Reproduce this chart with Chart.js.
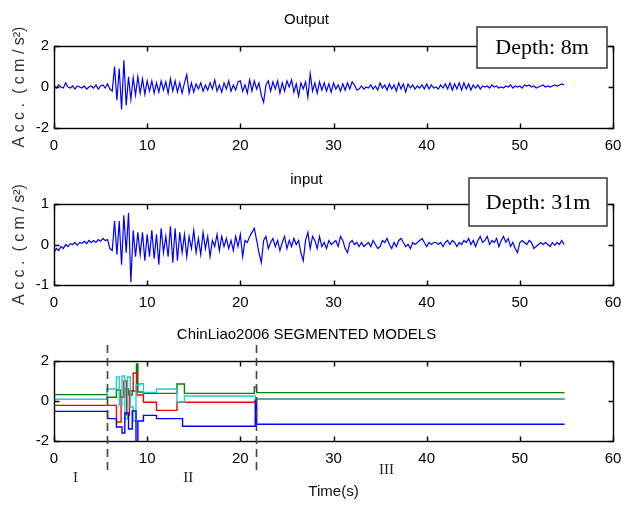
<!DOCTYPE html>
<html><head><meta charset="utf-8">
<script src="https://cdn.jsdelivr.net/npm/chart.js@4.4.0/dist/chart.umd.min.js"></script>
<style>
html,body{margin:0;padding:0;background:#fff;width:621px;height:505px;overflow:hidden;}
canvas{position:absolute;left:0;}
</style></head><body>
<canvas id="c1" width="621" height="170" style="top:0px"></canvas>
<canvas id="c2" width="621" height="160" style="top:165px"></canvas>
<canvas id="c3" width="621" height="185" style="top:320px"></canvas>
<script>
// ---------- data ----------
const timeStep = 0.25; // s, sampling grid of the traced records

// Output (depth 8 m), cm/s^2, 4 samples per second
const outputAcc = [
 0.05,-0.05,0.1,0.0,
 -0.05,0.2,0.0,-0.05,
 0.05,-0.1,0.05,0.0,
 -0.05,0.05,-0.1,0.0,
 0.05,-0.05,0.1,-0.1,
 0.05,0.1,-0.05,0.15,
 -0.1,-0.2,1.0,-0.65,
 0.9,-1.1,1.3,-0.9,
 0.5,-0.6,0.45,-0.4,
 0.5,-0.3,0.4,-0.35,
 0.3,-0.2,0.3,-0.3,
 0.2,-0.25,0.3,-0.15,
 0.25,-0.3,0.4,-0.2,
 0.3,-0.25,0.2,-0.3,
 0.2,0.6,-0.3,0.2,
 -0.25,0.15,-0.1,0.2,
 -0.2,0.1,-0.15,0.2,
 -0.1,0.35,-0.2,0.1,
 -0.25,0.2,-0.1,0.3,
 -0.2,0.1,-0.15,0.25,
 0.3,-0.2,0.1,-0.3,
 0.35,-0.2,0.3,-0.1,
 0.2,-0.4,-0.75,0.1,
 0.3,-0.2,0.25,-0.1,
 0.3,-0.3,0.2,-0.2,
 0.3,0.0,0.35,-0.25,
 0.15,-0.45,0.2,-0.1,
 0.25,-0.5,0.65,-0.2,
 0.2,-0.3,0.25,-0.15,
 0.2,-0.2,0.15,-0.25,
 0.2,-0.1,0.1,-0.2,
 0.15,-0.15,0.2,-0.1,
 0.25,0.1,-0.15,-0.1,
 0.05,-0.1,0.0,-0.05,
 0.1,-0.1,0.05,-0.15,
 0.2,-0.05,0.1,-0.15,
 0.15,-0.1,0.1,-0.2,
 0.2,-0.1,0.15,-0.25,
 0.15,-0.05,0.1,-0.1,
 0.05,-0.05,0.1,-0.1,
 0.15,-0.1,0.1,-0.05,
 0.0,-0.1,0.1,-0.05,
 0.15,-0.1,0.2,-0.15,
 0.15,-0.1,0.2,-0.15,
 0.2,-0.1,0.15,-0.15,
 0.1,-0.05,0.1,-0.1,
 0.05,0.0,0.05,-0.05,
 0.1,0.0,0.05,-0.05,
 0.0,-0.05,0.05,0.0,
 0.1,-0.05,0.05,0.0,
 0.05,-0.05,0.1,0.05,
 0.1,0.0,0.05,-0.05,
 0.0,0.05,0.1,0.0,
 0.05,0.0,0.05,0.1,
 0.05,0.1,0.15,0.1
];

// Input (depth 31 m), cm/s^2
const inputAcc = [
 -0.2,-0.1,-0.15,-0.05,
 -0.1,0.0,-0.05,0.02,
 0.0,0.05,-0.02,0.05,
 0.03,0.08,0.02,0.1,
 0.05,0.1,0.05,0.12,
 0.08,0.15,0.1,0.12,
 -0.1,-0.15,0.58,-0.25,
 0.58,-0.5,0.72,-0.2,
 0.78,-0.93,0.35,-0.3,
 0.3,-0.25,0.3,-0.4,
 0.25,-0.3,0.35,-0.35,
 0.25,-0.5,0.4,-0.2,
 0.2,-0.3,0.45,-0.45,
 0.4,-0.4,0.3,-0.2,
 0.25,-0.3,0.2,-0.1,
 0.35,-0.2,0.15,-0.25,
 0.3,-0.1,0.2,-0.3,
 0.1,-0.05,0.25,-0.15,
 0.2,-0.05,0.15,-0.1,
 0.1,-0.15,0.2,-0.05,
 0.25,-0.3,0.1,0.05,
 0.2,0.3,0.4,0.1,
 -0.2,-0.45,0.1,0.2,
 -0.1,0.05,0.15,-0.05,
 0.1,-0.15,0.05,0.2,
 -0.1,0.1,-0.05,0.15,
 0.0,0.1,-0.2,-0.4,
 0.1,0.3,-0.1,0.2,
 0.1,-0.1,0.2,-0.05,
 0.05,-0.1,0.1,0.0,
 0.05,0.1,-0.05,0.2,
 0.1,-0.1,-0.2,0.05,
 0.1,0.0,0.05,-0.05,
 0.05,-0.05,0.0,0.05,
 -0.05,0.1,0.0,-0.1,
 -0.05,0.1,0.05,0.15,
 0.0,-0.1,0.05,-0.05,
 0.1,0.15,0.05,-0.05,
 0.0,-0.1,0.05,0.0,
 0.05,0.1,0.15,0.05,
 -0.05,0.05,0.0,0.05,
 0.05,0.0,0.05,-0.05,
 0.05,0.1,0.0,0.1,
 0.05,-0.05,0.05,0.0,
 0.1,0.05,0.15,0.0,
 0.1,-0.05,0.1,0.2,
 0.05,0.1,0.2,0.0,
 0.1,0.05,0.15,-0.05,
 0.1,0.2,0.05,0.15,
 -0.05,0.05,-0.1,-0.2,
 0.05,0.1,0.05,0.0,
 0.1,0.05,-0.1,-0.05,
 0.0,0.05,0.0,0.05,
 0.0,-0.05,0.05,-0.02,
 0.05,0.0,0.1,0.0
];

// Segmented model parameters (step functions): breakpoint times and values
const segGreenT = [0, 5.7, 6.7, 7.1, 7.6, 8.0, 8.4, 8.85, 9.0, 9.6, 13.2, 14.0, 21.5, 21.75, 54.8];
const segGreenV = [0.32, 0.19, 0.55, 0.2, 0.6, 0.3, 0.5, 1.85, 0.45, 0.38, 0.85, 0.38, 0.7, 0.42, 0.42];
const segCyanT  = [0, 5.7, 6.7, 7.0, 7.3, 7.6, 7.9, 8.2, 8.5, 8.8, 9.2, 9.6, 11.0, 13.2, 14.0, 21.6, 54.8];
const segCyanV  = [0.09, 0.6, 1.2, -0.2, 1.25, -0.9, 1.2, -0.3, -1.0, 0.8, 0.86, 0.43, 0.6, -0.05, 0.25, 0.1, 0.1];
const segRedT   = [0, 6.7, 7.2, 7.5, 7.8, 8.1, 8.5, 8.9, 9.6, 11.0, 13.2, 21.6, 54.8];
const segRedV   = [-0.22, -1.05, 0.2, 1.0, -0.7, 0.5, 1.4, 0.3, -0.06, -0.47, -0.06, 0.1, 0.1];
const segBlueT  = [0, 5.75, 6.7, 7.3, 7.6, 8.0, 8.4, 8.8, 9.0, 9.6, 11.0, 13.8, 21.6, 21.75, 54.8];
const segBlueV  = [-0.52, -0.88, -1.3, -1.6, -0.6, -1.4, -0.5, -2.1, -1.0, -0.72, -0.88, -1.26, 0.0, -1.16, -1.16];

const regionBounds = [5.7, 21.7];          // dashed separators (s)
const regionLabels = ['I', 'II', 'III'];
const regionLabelT = [2.3, 14.4, 35.7];    // label positions (s)

const titles = ['Output', 'input', 'ChinLiao2006 SEGMENTED MODELS'];
const depthLabels = ['Depth: 8m', 'Depth: 31m'];
const yAxisLabel = 'A c c .  ( c m / s\u00B2)';
const xAxisLabel = 'Time(s)';

// ---------- helpers ----------
Chart.defaults.font.family = '"Liberation Sans", Arial, sans-serif';
Chart.defaults.font.size = 14;
Chart.defaults.color = '#000';

const toSeries = vals => vals.map((v, i) => ({x: i * timeStep, y: v}));
const toSteps = (ts, vs) => ts.map((t, i) => ({x: t, y: vs[i]}));

const boxPlugin = {
  id: 'matlabBox',
  afterDraw(chart) {
    const {ctx, chartArea: a, scales: {x, y}} = chart;
    ctx.save();
    ctx.strokeStyle = '#000';
    ctx.lineWidth = 1.4;
    const L = Math.round(a.left) + 0.5, R = Math.round(a.right) + 0.5;
    const T = Math.round(a.top) + 0.5, B = Math.round(a.bottom) + 0.5;
    ctx.strokeRect(L, T, R - L, B - T);
    const k = 5;
    ctx.beginPath();
    x.ticks.forEach(t => {
      const px = Math.round(x.getPixelForValue(t.value)) + 0.5;
      ctx.moveTo(px, T); ctx.lineTo(px, T + k);
      ctx.moveTo(px, B); ctx.lineTo(px, B - k);
    });
    y.ticks.forEach(t => {
      const py = Math.round(y.getPixelForValue(t.value)) + 0.5;
      ctx.moveTo(L, py); ctx.lineTo(L + k, py);
      ctx.moveTo(R, py); ctx.lineTo(R - k, py);
    });
    ctx.stroke();
    ctx.restore();
  }
};

const textBoxPlugin = {
  id: 'textBox',
  afterDraw(chart, args, o) {
    if (!o || !o.text) return;
    const ctx = chart.ctx;
    ctx.save();
    ctx.fillStyle = '#fff';
    ctx.fillRect(o.left, o.top, o.width, o.height);
    ctx.strokeStyle = '#333';
    ctx.lineWidth = 1.5;
    ctx.strokeRect(o.left, o.top, o.width, o.height);
    ctx.fillStyle = '#000';
    ctx.font = '22px "Liberation Serif", "Times New Roman", serif';
    ctx.textAlign = 'center';
    ctx.textBaseline = 'middle';
    ctx.fillText(o.text, o.left + o.width / 2, o.top + o.height / 2 + 1);
    ctx.restore();
  }
};

const regionPlugin = {
  id: 'regions',
  afterDraw(chart, args, o) {
    if (!o || !o.bounds) return;
    const {ctx, chartArea: a, scales: {x}} = chart;
    ctx.save();
    ctx.strokeStyle = '#444';
    ctx.lineWidth = 1.6;
    ctx.setLineDash([8, 5]);
    o.bounds.forEach(t => {
      const px = Math.round(x.getPixelForValue(t)) + 0.5;
      ctx.beginPath();
      ctx.moveTo(px, a.top - 16);
      ctx.lineTo(px, a.bottom + 30);
      ctx.stroke();
    });
    ctx.setLineDash([]);
    ctx.fillStyle = '#222';
    ctx.font = '15px "Liberation Serif", "Times New Roman", serif';
    ctx.textAlign = 'center';
    ctx.textBaseline = 'middle';
    o.labels.forEach((lab, i) => {
      const px = x.getPixelForValue(o.labelT[i]);
      const dy = i === 2 ? 29 : 37;
      ctx.fillText(lab, px, a.bottom + dy);
    });
    ctx.restore();
  }
};

function makeChart(id, datasets, cfg) {
  return new Chart(document.getElementById(id), {
    type: 'line',
    data: {datasets},
    options: {
      responsive: false,
      animation: false,
      devicePixelRatio: 1,
      layout: {padding: {left: 0, right: 8, top: 0, bottom: 0}},
      elements: {point: {radius: 0}, line: {tension: 0}},
      plugins: {
        legend: {display: false},
        tooltip: {enabled: false},
        title: {
          display: true, text: cfg.title,
          font: {size: 15, weight: 'normal'}, color: '#000',
          padding: {top: cfg.titlePadTop, bottom: cfg.titlePadBottom}
        },
        textBox: cfg.textBox || {},
        regions: cfg.regions || {}
      },
      scales: {
        x: {
          type: 'linear', min: 0, max: 60,
          grid: {display: false, drawTicks: false},
          border: {display: false},
          ticks: {stepSize: 10, padding: 9, font: {size: 15}, color: '#000', maxRotation: 0},
          title: cfg.xTitle ? {display: true, text: cfg.xTitle, font: {size: 15}, color: '#111', padding: {top: 0, bottom: 4}} : {display: false},
          afterFit(s) { s.height = cfg.xHeight; s.paddingLeft = 0; s.paddingRight = 0; }
        },
        y: {
          min: cfg.ymin, max: cfg.ymax,
          grid: {display: false, drawTicks: false},
          border: {display: false},
          ticks: {stepSize: cfg.ystep, padding: 5, font: {size: 15}, color: '#000'},
          title: cfg.yTitle ? {display: true, text: cfg.yTitle, font: {size: 16}, color: '#333', padding: {top: 10, bottom: 0}} : {display: false},
          afterFit(s) { s.width = 54; s.paddingTop = 0; s.paddingBottom = 0; }
        }
      }
    },
    plugins: [boxPlugin, textBoxPlugin, regionPlugin]
  });
}

makeChart('c1', [
  {data: toSeries(outputAcc), borderColor: '#0000ff', borderWidth: 1.2, fill: false}
], {
  title: titles[0], titlePadTop: 11, titlePadBottom: 17, xHeight: 42,
  ymin: -2, ymax: 2, ystep: 2, yTitle: yAxisLabel,
  textBox: {text: depthLabels[0], left: 477, top: 27, width: 130, height: 41}
});

makeChart('c2', [
  {data: toSeries(inputAcc), borderColor: '#0000ff', borderWidth: 1.2, fill: false}
], {
  title: titles[1], titlePadTop: 6, titlePadBottom: 15, xHeight: 40,
  ymin: -1, ymax: 1, ystep: 1, yTitle: yAxisLabel,
  textBox: {text: depthLabels[1], left: 469, top: 13, width: 138, height: 48}
});

makeChart('c3', [
  {data: toSteps(segBlueT, segBlueV), borderColor: '#0000ff', borderWidth: 1.4, stepped: 'before', fill: false, order: 0},
  {data: toSteps(segCyanT, segCyanV), borderColor: '#22cccc', borderWidth: 1.4, stepped: 'before', fill: false, order: 1},
  {data: toSteps(segRedT, segRedV), borderColor: '#ff0000', borderWidth: 1.4, stepped: 'before', fill: false, order: 2},
  {data: toSteps(segGreenT, segGreenV), borderColor: '#008000', borderWidth: 1.4, stepped: 'before', fill: false, order: 3}
], {
  title: titles[2], titlePadTop: 6, titlePadBottom: 17, xHeight: 64,
  ymin: -2, ymax: 2, ystep: 2, xTitle: xAxisLabel,
  regions: {bounds: regionBounds, labels: regionLabels, labelT: regionLabelT}
});
</script>
</body></html>
